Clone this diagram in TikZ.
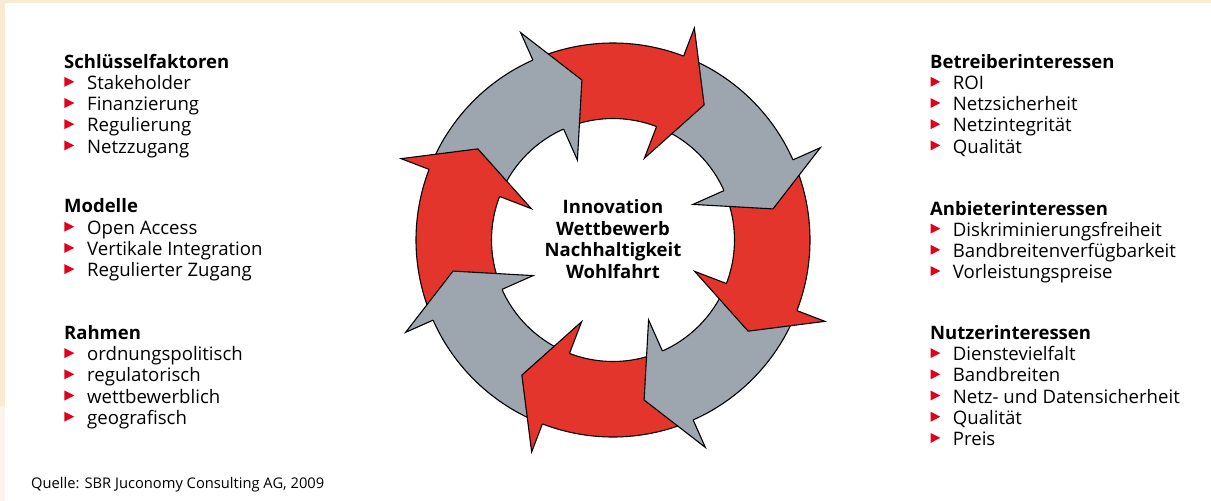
\documentclass[tikz,border=0pt]{standalone}
\usepackage{fontspec}
\setmainfont{Open Sans}
\definecolor{ringred}{HTML}{E4352D}
\definecolor{ringgray}{HTML}{9DA6AE}
\definecolor{bulred}{HTML}{E2001A}
\definecolor{peach}{HTML}{FBEAD3}
\definecolor{cream}{HTML}{FCF4EA}
\begin{document}
\begin{tikzpicture}[x=1pt,y=-1pt,
  headtxt/.style={font=\fontsize{18.5}{21}\selectfont\bfseries, anchor=base west, inner sep=0pt},
  itemtxt/.style={font=\fontsize{18.6}{21}\selectfont, anchor=base west, inner sep=0pt},
  ctext/.style={font=\fontsize{18.5}{21}\selectfont\bfseries, anchor=base, inner sep=0pt},
  arrowline/.style={draw=black, line width=1.1pt, line join=miter}
]
\useasboundingbox (0,0) rectangle (1211,501);
\fill[peach] (0,0) rectangle (1211,501);
\fill[cream] (0,406) rectangle (5,501);
\fill[white] (5,3) rectangle (1211,501);

% ring
\begin{scope}[shift={(613,240)}, yscale=-1]
  \def\Ro{197}\def\Ri{121.5}\def\Rb{227}\def\rb{87.5}\def\Rt{163}
  \foreach \k/\col in {0/ringred,1/ringgray,2/ringred,3/ringgray,4/ringred,5/ringgray,6/ringred,7/ringgray} {
    \pgfmathsetmacro\b{159-45*\k}
    \pgfmathsetmacro\s{\b+43}
    \pgfmathsetmacro\e{\b-1}
    \path[fill=\col, arrowline] (\s:\Ro) arc[start angle=\s, end angle=\e, radius=\Ro] -- (\e:\Ri) arc[start angle=\e, end angle=\s, radius=\Ri] -- cycle;
  }
  \foreach \k/\col in {0/ringred,1/ringgray,2/ringred,3/ringgray,4/ringred,5/ringgray,6/ringred,7/ringgray} {
    \pgfmathsetmacro\b{159-45*\k}
    \pgfmathsetmacro\t{\b-13}
    \fill[\col] (\b:\Rb) -- (\t:\Rt) -- (\b:\rb) -- cycle;
    \draw[arrowline] (\b:\Ro) -- (\b:\Rb) -- (\t:\Rt) -- (\b:\rb) -- (\b:\Ri);
  }
\end{scope}

% centre text
\node[ctext] (c1) at (613,213.3) {Innovation};
\node[ctext] (c2) at (613,235) {Wettbewerb};
\node[ctext] (c3) at (613,256.6) {Nachhaltigkeit};
\node[ctext] (c4) at (613,278) {Wohlfahrt};

% left column
\node[headtxt] (l1) at (64,68.3) {Schlüsselfaktoren};
\foreach \txt [count=\i from 0] in {Stakeholder,Finanzierung,Regulierung,Netzzugang} {
  \pgfmathsetmacro\y{89.4+21.2*\i}
  \node[itemtxt] (l1i\i) at (87,\y) {\txt};
  \fill[bulred] (64.3,\y-12.6) -- (74.3,\y-7.6) -- (64.3,\y-2.6) -- cycle;
}
\node[headtxt] (l2) at (64,212.7) {Modelle};
\foreach \txt [count=\i from 0] in {Open Access,Vertikale Integration,Regulierter Zugang} {
  \pgfmathsetmacro\y{234.3+21.2*\i}
  \node[itemtxt] (l2i\i) at (87,\y) {\txt};
  \fill[bulred] (64.3,\y-12.6) -- (74.3,\y-7.6) -- (64.3,\y-2.6) -- cycle;
}
\node[headtxt] (l3) at (64,339.3) {Rahmen};
\foreach \txt [count=\i from 0] in {ordnungspolitisch,regulatorisch,wettbewerblich,geografisch} {
  \pgfmathsetmacro\y{360.7+21.2*\i}
  \node[itemtxt] (l3i\i) at (87,\y) {\txt};
  \fill[bulred] (64.3,\y-12.6) -- (74.3,\y-7.6) -- (64.3,\y-2.6) -- cycle;
}

% right column
\node[headtxt] (r1) at (930,68.3) {Betreiberinteressen};
\foreach \txt [count=\i from 0] in {ROI,Netzsicherheit,Netzintegrität,Qualität} {
  \pgfmathsetmacro\y{89.4+21.2*\i}
  \node[itemtxt] (r1i\i) at (952.7,\y) {\txt};
  \fill[bulred] (930.5,\y-12.6) -- (940.3,\y-7.6) -- (930.5,\y-2.6) -- cycle;
}
\node[headtxt] (r2) at (930,215) {Anbieterinteressen};
\foreach \txt [count=\i from 0] in {Diskriminierungsfreiheit,Bandbreitenverfügbarkeit,Vorleistungspreise} {
  \pgfmathsetmacro\y{236.2+21.2*\i}
  \node[itemtxt] (r2i\i) at (952.7,\y) {\txt};
  \fill[bulred] (930.5,\y-12.6) -- (940.3,\y-7.6) -- (930.5,\y-2.6) -- cycle;
}
\node[headtxt] (r3) at (930,339.3) {Nutzerinteressen};
\foreach \txt [count=\i from 0] in {Dienstevielfalt,Bandbreiten,Netz- und Datensicherheit,Qualität,Preis} {
  \pgfmathsetmacro\y{360.7+21.2*\i}
  \node[itemtxt] (r3i\i) at (952.7,\y) {\txt};
  \fill[bulred] (930.5,\y-12.6) -- (940.3,\y-7.6) -- (930.5,\y-2.6) -- cycle;
}

% source
\node[font=\fontsize{14.7}{17}\selectfont, anchor=base west, inner sep=0pt] (src) at (31,488.3) {Quelle: SBR Juconomy Consulting AG, 2009};
\end{tikzpicture}
\end{document}
